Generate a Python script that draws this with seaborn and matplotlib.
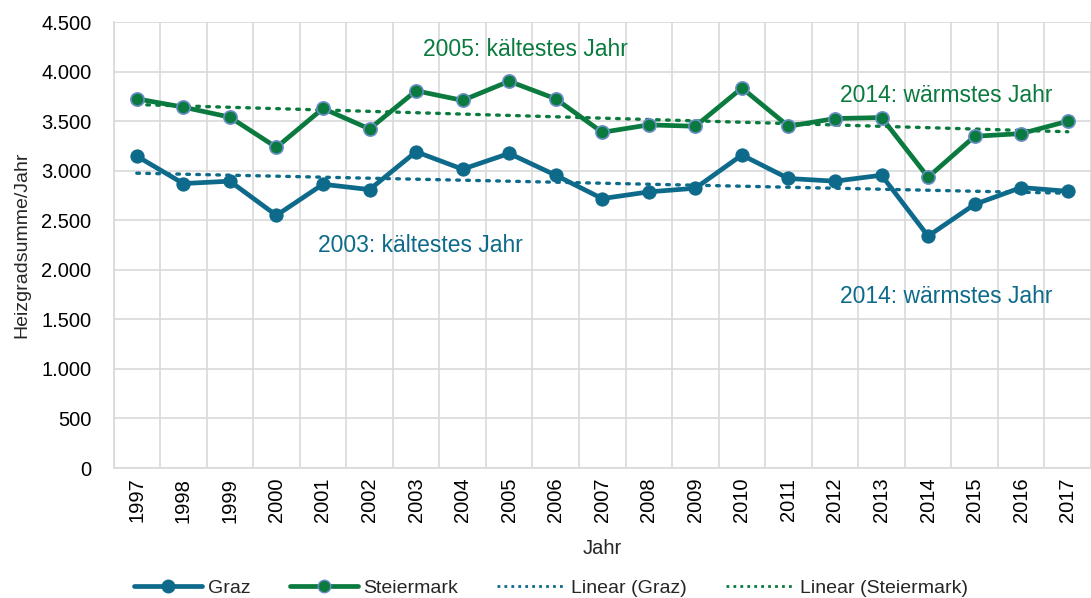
import pandas as pd
import numpy as np
import matplotlib.pyplot as plt
import seaborn as sns
from matplotlib.ticker import FuncFormatter, MultipleLocator
from matplotlib.lines import Line2D

years = list(range(1997, 2018))
graz = [3147, 2870, 2894, 2549, 2863, 2809, 3191, 3015, 3174, 2954,
        2718, 2786, 2823, 3158, 2921, 2894, 2954, 2340, 2660, 2830, 2792]
steiermark = [3725, 3641, 3540, 3235, 3628, 3421, 3806, 3709, 3902, 3725,
              3387, 3462, 3448, 3834, 3448, 3526, 3536, 2934, 3347, 3374, 3499]

BLUE = '#0E6A8A'
GREEN = '#0A7A3E'
NARROW = ['Liberation Sans Narrow', 'Liberation Sans', 'DejaVu Sans']

sns.set_style("white")
plt.rcParams['font.family'] = ['Liberation Sans', 'DejaVu Sans']

df = pd.DataFrame({'idx': np.arange(len(years)), 'Graz': graz, 'Steiermark': steiermark})

fig = plt.figure(figsize=(10.91, 5.98), dpi=100)
ax = fig.add_axes([113.5 / 1091, 1 - 468 / 598, 1 - 113.5 / 1091, (468 - 22) / 598])

# linear trends (drawn by seaborn's regression)
sns.regplot(data=df, x='idx', y='Graz', scatter=False, ci=None, ax=ax,
            line_kws=dict(color=BLUE, lw=2.4, ls=(0, (0.8, 2.2)), zorder=3,
                          dash_capstyle='round'))
sns.regplot(data=df, x='idx', y='Steiermark', scatter=False, ci=None, ax=ax,
            line_kws=dict(color=GREEN, lw=2.4, ls=(0, (0.8, 2.2)), zorder=3,
                          dash_capstyle='round'))

sns.lineplot(data=df, x='idx', y='Graz', color=BLUE, lw=3.4, marker='o', markersize=9.5,
             markeredgecolor=BLUE, ax=ax, zorder=4)
sns.lineplot(data=df, x='idx', y='Steiermark', color=GREEN, lw=3.4, marker='o', markersize=9.5,
             markeredgecolor='#6A8CC8', markeredgewidth=1.2, ax=ax, zorder=4)

ax.set_xlim(-0.5, 20.3)
ax.set_ylim(0, 4500)
ax.yaxis.set_major_locator(MultipleLocator(500))
ax.yaxis.set_major_formatter(FuncFormatter(lambda v, p: f"{int(v):,}".replace(',', '.')))
ax.set_xticks(range(len(years)))
ax.set_xticklabels([str(y) for y in years], rotation=90)
ax.set_xticks(np.arange(-0.5, len(years), 1), minor=True)
ax.tick_params(axis='both', which='both', length=0, labelsize=14.5, colors='black')
ax.tick_params(axis='y', pad=16)
ax.tick_params(axis='x', pad=7)
ax.grid(axis='y', which='major', color='#D9D9D9', lw=1.2)
ax.grid(axis='x', which='minor', color='#D9D9D9', lw=1.2)
ax.set_axisbelow(True)
for s in ['top', 'right']:
    ax.spines[s].set_visible(False)
for s in ['left', 'bottom']:
    ax.spines[s].set_color('#D9D9D9')
    ax.spines[s].set_linewidth(1.2)

ax.set_xlabel('Jahr', fontsize=14.5, family=NARROW, labelpad=12)
ax.set_ylabel('Heizgradsumme/Jahr', fontsize=14, family=NARROW, labelpad=8)

# annotations
ax.text(8.36, 4220, '2005: kältestes Jahr', color=GREEN, fontsize=16.5, family=NARROW, ha='center', va='center')
ax.text(17.4, 3763, '2014: wärmstes Jahr', color=GREEN, fontsize=16.5, family=NARROW, ha='center', va='center')
ax.text(6.09, 2241, '2003: kältestes Jahr', color=BLUE, fontsize=16.5, family=NARROW, ha='center', va='center')
ax.text(17.4, 1734, '2014: wärmstes Jahr', color=BLUE, fontsize=16.5, family=NARROW, ha='center', va='center')

handles = [
    Line2D([], [], color=BLUE, lw=3.4, marker='o', markersize=9),
    Line2D([], [], color=GREEN, lw=3.4, marker='o', markersize=9, markeredgecolor='#6A8CC8'),
    Line2D([], [], color=BLUE, lw=2, ls=(0, (1, 1.5))),
    Line2D([], [], color=GREEN, lw=2, ls=(0, (1, 1.5))),
]
labels = ['Graz', 'Steiermark', 'Linear (Graz)', 'Linear (Steiermark)']
fig.legend(handles, labels, loc='center', bbox_to_anchor=(0.505, 1 - 588 / 598), ncol=4,
           frameon=False, prop=dict(family=NARROW, size=14), handlelength=3.5,
           columnspacing=2.0, handletextpad=0.3)

fig.savefig('out.png', dpi=100)
